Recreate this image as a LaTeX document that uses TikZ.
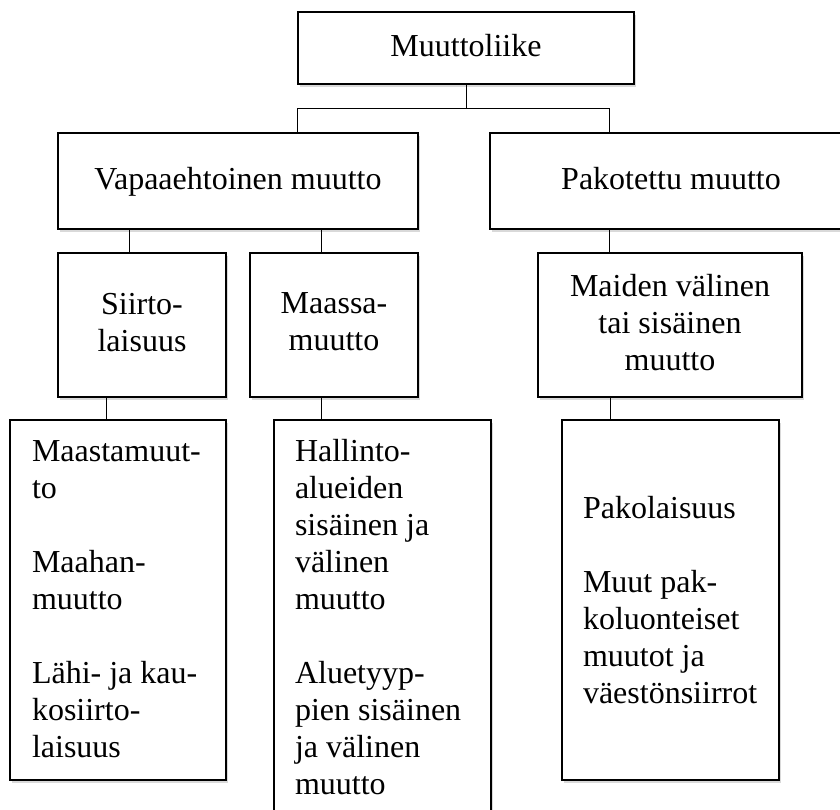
\documentclass[tikz,border=0pt]{standalone}
\usepackage{fontspec}
\setmainfont{Liberation Serif}
\usetikzlibrary{shadows}

\begin{document}
\begin{tikzpicture}[x=1pt,y=-1pt,line width=1.4pt]
            \tikzstyle{every node}=[font=\fontsize{32}{37}\selectfont]
            \tikzstyle{box}=[draw,fill=white,align=center,inner sep=0pt,text depth=6pt,
                drop shadow={shadow xshift=1.5pt,shadow yshift=-2.5pt,opacity=0.3}]
            \tikzstyle{txt}=[anchor=north west,align=left,inner sep=0pt]
            \tikzstyle{link}=[line width=0.8pt]
            \useasboundingbox (0,0) rectangle (840,809);
            \clip (0,0) rectangle (840,809);
            % ylataso
            \node[box,minimum width=336,minimum height=72] (mu) at (466,48) {Muuttoliike};
            \node[box,minimum width=360,minimum height=96] (va) at (238,181) {Vapaaehtoinen muutto};
            \node[box,minimum width=362,minimum height=96] (pa) at (671,181) {Pakotettu muutto};
            \node[box,minimum width=168,minimum height=144] (si) at (142,325) {Siirto-\\laisuus};
            \node[box,minimum width=168,minimum height=144] (ma) at (334,325) {Maassa-\\muutto};
            \node[box,minimum width=264,minimum height=144] (mv) at (670,325) {Maiden välinen\\tai sisäinen\\muutto};
            % alataso
            \node[box,minimum width=216,minimum height=360] (bl) at (118,600) {};
            \node[box,minimum width=217,minimum height=420] (bm) at (382.5,630) {};
            \node[box,minimum width=217,minimum height=360] (br) at (670.5,600) {};
            \node[txt] (tl) at ([xshift=22pt,yshift=-21pt]bl.north west)
                {Maastamuut-\\to\\[37pt]Maahan-\\muutto\\[37pt]Lähi- ja kau-\\kosiirto-\\laisuus};
            \node[txt] (tm) at ([xshift=21pt,yshift=-19pt]bm.north west)
                {Hallinto-\\alueiden\\sisäinen ja\\välinen\\muutto\\[37pt]Aluetyyp-\\pien sisäinen\\ja välinen\\muutto};
            \node[txt] (tr) at ([xshift=21pt,yshift=-76pt]br.north west)
                {Pakolaisuus\\[37pt]Muut pak-\\koluonteiset\\muutot ja\\väestönsiirrot};

            \draw[link] (mu.south) -- ++(0,24) coordinate (jm);
            \draw[link] ([xshift=240pt]va.north west) |- (jm) -| ([xshift=120pt]pa.north west);
            \draw[link] ([xshift=72pt]si.north west) coordinate (js) -- (js |- va.south);
            \draw[link] ([xshift=72pt]ma.north west) coordinate (jma) -- (jma |- va.south);
            \draw[link] ([xshift=72pt]mv.north west) coordinate (jmv) -- (jmv |- pa.south);
            \draw[link] ([xshift=97pt]bl.north west) coordinate (jb) -- (jb |- si.south);
            \draw[link] ([xshift=48pt]bm.north west) coordinate (jbm) -- (jbm |- ma.south);
            \draw[link] ([xshift=49pt]br.north west) coordinate (jbr) -- (jbr |- mv.south);
        \end{tikzpicture}
\end{document}
